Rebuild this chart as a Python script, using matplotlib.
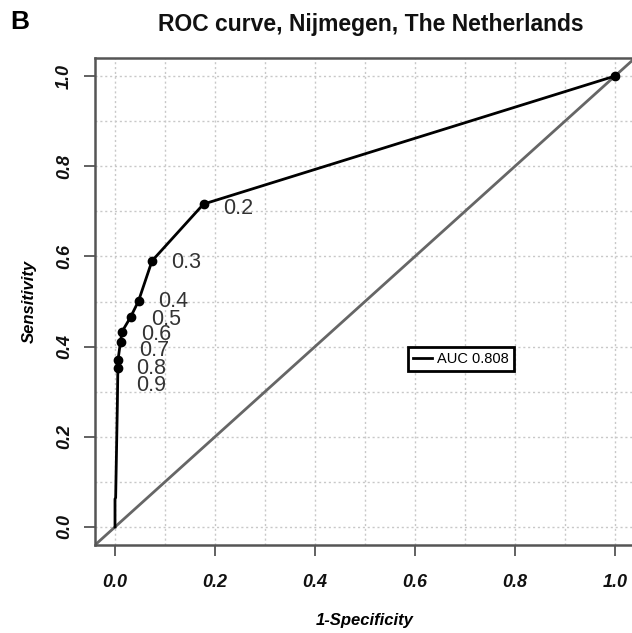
import matplotlib
matplotlib.use('Agg')
import matplotlib.pyplot as plt

plt.rcParams['font.family'] = ['Liberation Sans', 'DejaVu Sans']

# ROC curve (1-specificity, sensitivity)
fpr = [0.0, 0.0, 0.0013, 0.0047, 0.0055, 0.006, 0.006, 0.011, 0.014, 0.031, 0.047, 0.074, 0.177, 1.0]
tpr = [0.0, 0.062, 0.065, 0.27, 0.336, 0.352, 0.370, 0.411, 0.433, 0.465, 0.501, 0.590, 0.716, 1.0]

# cut-off points marked on the curve
thr_labels = ['0.2', '0.3', '0.4', '0.5', '0.6', '0.7', '0.8', '0.9']
thr_fpr = [0.177, 0.074, 0.047, 0.031, 0.014, 0.011, 0.006, 0.006]
thr_tpr = [0.716, 0.590, 0.501, 0.465, 0.433, 0.411, 0.370, 0.352]
# where the labels sit relative to their points (dx, dy)
lab_off = [(0.039, -0.009), (0.039, -0.004), (0.040, -0.001), (0.041, -0.006),
           (0.038, -0.006), (0.038, -0.019), (0.037, -0.018), (0.037, -0.039)]

auc = 0.808
ticks = [0.0, 0.2, 0.4, 0.6, 0.8, 1.0]

fig = plt.figure(figsize=(6.32, 6.33), dpi=100)
ax = fig.add_axes([95/632, 88/633, 540/632, 487/633])
ax.set_xlim(-0.04, 1.04)
ax.set_ylim(-0.04, 1.04)

# dotted grid every 0.1
for g in [i/10 for i in range(11)]:
    ax.axvline(g, color='#c8c8c8', lw=1, ls=(0, (1.5, 2)), zorder=0)
    ax.axhline(g, color='#c8c8c8', lw=1, ls=(0, (1.5, 2)), zorder=0)

ax.plot([-0.04, 1.04], [-0.04, 1.04], color='#666666', lw=2, zorder=1)
line, = ax.plot(fpr, tpr, color='black', lw=2, zorder=2, label='AUC %.3f' % auc)
ax.plot(thr_fpr + [1.0], thr_tpr + [1.0], 'o', color='black', ms=6, zorder=3)

for lab, x, y, (dx, dy) in zip(thr_labels, thr_fpr, thr_tpr, lab_off):
    ax.text(x + dx, y + dy, lab, fontsize=15.5, color='#333333', ha='left', va='center')

leg = ax.legend(handles=[line], loc='center', bbox_to_anchor=(0.692, 0.372),
                bbox_transform=ax.transData, fontsize=10.5, fancybox=False,
                edgecolor='black', framealpha=1, handlelength=1.3, handletextpad=0.3,
                borderpad=0.35, borderaxespad=0)
leg.get_frame().set_linewidth(2)

for s in ax.spines.values():
    s.set_color('#555555')
    s.set_linewidth(1.8)

ax.set_xticks(ticks)
ax.set_yticks(ticks)
ax.set_xticklabels(['%.1f' % t for t in ticks], fontsize=13, fontweight='bold', style='italic')
ax.set_yticklabels(['%.1f' % t for t in ticks], fontsize=13, fontweight='bold', style='italic',
                   rotation=90, va='center')
ax.tick_params(axis='both', direction='out', length=8, width=1.3, color='#555555', labelcolor='#111111')
ax.tick_params(axis='x', pad=13)
ax.tick_params(axis='y', pad=8)

ax.set_xlabel('1-Specificity', fontsize=12, fontweight='bold', style='italic', labelpad=16)
ax.set_ylabel('Sensitivity', fontsize=12, fontweight='bold', style='italic', labelpad=14)

fig.text(371/632, 1 - 25/633, 'ROC curve, Nijmegen, The Netherlands', fontsize=16.5,
         fontweight='bold', ha='center', va='center', color='#111111')
fig.text(10/632, 1 - 22/633, 'B', fontsize=19, fontweight='bold', ha='left', va='center')

plt.savefig('out.png', dpi=100)
